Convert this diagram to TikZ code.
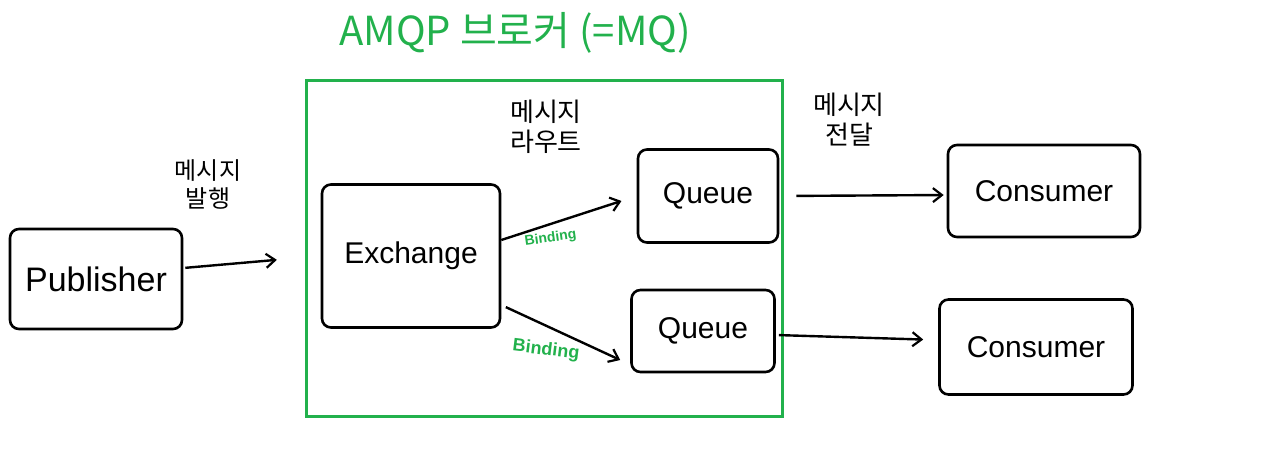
\documentclass[tikz,border=0pt]{standalone}
\usepackage{fontspec}
\setmainfont{Liberation Sans}
\newfontfamily\kr{Noto Sans CJK KR}
\usetikzlibrary{arrows.meta}
\definecolor{pgreen}{RGB}{34,177,76}
\begin{document}
\begin{tikzpicture}[x=1pt,y=-1pt,
  box/.style={draw=black,line width=2.6pt,rounded corners=9pt,inner sep=0pt,font=\fontsize{30}{30}\selectfont},
  arr/.style={draw=black,line width=2.4pt,-{Straight Barb[length=9pt,width=14pt,line width=2.2pt]}},
  lbl/.style={font=\kr\fontsize{26}{30}\selectfont,align=center,inner sep=0pt},
  glbl/.style={text=pgreen,font=\bfseries,inner sep=0pt}]
\useasboundingbox (0,0) rectangle (1287,464);
% broker
\node[text=pgreen,font=\kr\fontsize{40}{40}\selectfont,inner sep=0pt] (title) at (515,33) {AMQP 브로커 (=MQ)};
\node[draw=pgreen,line width=3pt,minimum width=476pt,minimum height=336pt,inner sep=0pt] (broker) at (544,248) {};
% boxes
\node[box,minimum width=172pt,minimum height=100pt,font=\fontsize{34}{34}\selectfont] (pub) at (96,279) {Publisher};
\node[box,minimum width=178pt,minimum height=143pt] (exch) at (411,256) {Exchange};
\node[box,minimum width=140pt,minimum height=93pt] (q1) at (708,196) {Queue};
\node[box,minimum width=143pt,minimum height=82pt] (q2) at (703,331) {Queue};
\node[box,minimum width=192pt,minimum height=92pt] (c1) at (1044,191) {Consumer};
\node[box,minimum width=193pt,minimum height=95pt] (c2) at (1036,347) {Consumer};
% labels
\node[lbl,font=\kr\fontsize{24}{28}\selectfont] (l1) at (208,184) {메시지\\발행};
\node[lbl] (l2) at (546,127) {메시지\\라우트};
\node[lbl] (l3) at (849,120) {메시지\\전달};
% connectors
\draw[arr,shorten <=2pt,shorten >=44pt] ([yshift=11pt]pub.east) -- ([yshift=0pt]exch.west);
\draw[arr,shorten >=16pt] ([yshift=16pt]exch.east) -- (q1.west)
  node[glbl,font=\bfseries\fontsize{14}{14}\selectfont,rotate=8,pos=0.35,below=6pt] (b1) {Binding};
\draw[arr,shorten <=5pt] ([yshift=-49pt]exch.east) -- ([xshift=-10pt,yshift=-29pt]q2.west)
  node[glbl,font=\bfseries\fontsize{18}{18}\selectfont,rotate=-7,pos=0.4,below=14pt] (b2) {Binding};
\draw[arr,shorten <=17pt,shorten >=3pt] (q1.east) -- ([yshift=-4pt]c1.west);
\draw[arr,shorten <=3pt,shorten >=15pt] ([yshift=-4pt]q2.east) -- ([yshift=7pt]c2.west);
\end{tikzpicture}
\end{document}
